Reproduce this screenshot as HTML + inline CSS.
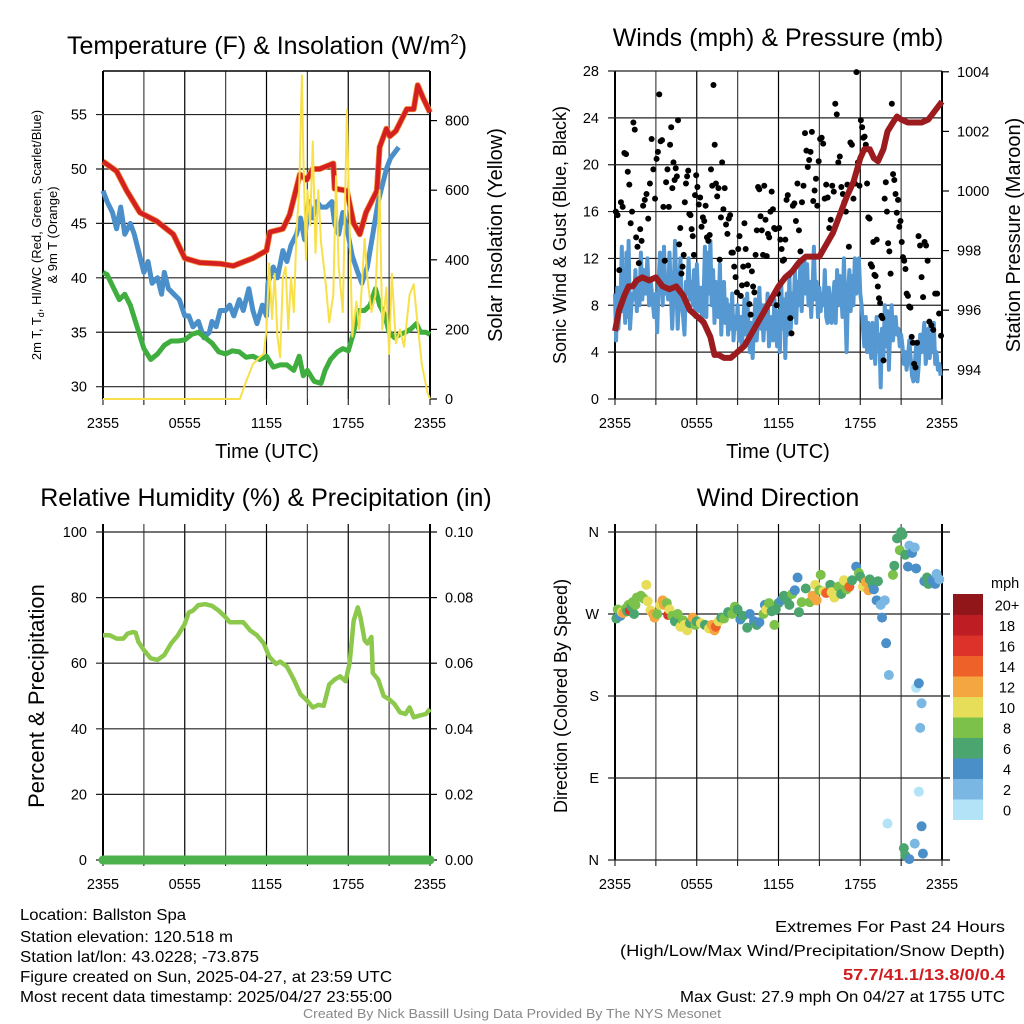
<!DOCTYPE html>
<html><head><meta charset="utf-8">
<style>
html,body{margin:0;padding:0;background:#fff;}
svg{display:block;font-family:"Liberation Sans",sans-serif;}
</style></head>
<body>
<svg id="c" width="1024" height="1024" viewBox="0 0 1024 1024">
<rect width="1024" height="1024" fill="#fff"/>
<text x="267" y="54" font-size="25" text-anchor="middle">Temperature (F) &amp; Insolation (W/m<tspan font-size="15" dy="-10">2</tspan><tspan dy="10">)</tspan></text>
<text x="778" y="46" font-size="25" text-anchor="middle">Winds (mph) &amp; Pressure (mb)</text>
<text x="266" y="506" font-size="25" text-anchor="middle">Relative Humidity (%) &amp; Precipitation (in)</text>
<text x="778" y="506" font-size="25" text-anchor="middle">Wind Direction</text>

<text transform="translate(41,235) rotate(-90)" font-size="13" text-anchor="middle">2m T, T<tspan font-size="9" dy="3">d</tspan><tspan dy="-3">, HI/WC (Red, Green, Scarlet/Blue)</tspan></text>
<text transform="translate(57,235) rotate(-90)" font-size="13" text-anchor="middle">&amp; 9m T (Orange)</text>
<text transform="translate(502,235) rotate(-90)" font-size="20" text-anchor="middle">Solar Insolation (Yellow)</text>
<text transform="translate(566,235) rotate(-90)" font-size="18" text-anchor="middle">Sonic Wind &amp; Gust (Blue, Black)</text>
<text transform="translate(1020,235) rotate(-90)" font-size="20" text-anchor="middle">Station Pressure (Maroon)</text>
<text transform="translate(44,696) rotate(-90)" font-size="22" text-anchor="middle">Percent &amp; Precipitation</text>
<text transform="translate(567,696) rotate(-90)" font-size="18" text-anchor="middle">Direction (Colored By Speed)</text>
<text x="267" y="458" font-size="20" text-anchor="middle">Time (UTC)</text>
<text x="778" y="458" font-size="20" text-anchor="middle">Time (UTC)</text>

<g font-size="16">
<text x="20" y="920" textLength="166" lengthAdjust="spacingAndGlyphs">Location: Ballston Spa</text>
<text x="20" y="942" textLength="213" lengthAdjust="spacingAndGlyphs">Station elevation: 120.518 m</text>
<text x="20" y="962" textLength="239" lengthAdjust="spacingAndGlyphs">Station lat/lon: 43.0228; -73.875</text>
<text x="20" y="982" textLength="372" lengthAdjust="spacingAndGlyphs">Figure created on Sun, 2025-04-27, at 23:59 UTC</text>
<text x="20" y="1002" textLength="372" lengthAdjust="spacingAndGlyphs">Most recent data timestamp: 2025/04/27 23:55:00</text>
</g>
<g font-size="16">
<text x="775" y="932" textLength="230" lengthAdjust="spacingAndGlyphs">Extremes For Past 24 Hours</text>
<text x="620" y="956" textLength="385" lengthAdjust="spacingAndGlyphs">(High/Low/Max Wind/Precipitation/Snow Depth)</text>
<text x="843" y="980" fill="#d01c1f" font-weight="bold" textLength="162" lengthAdjust="spacingAndGlyphs">57.7/41.1/13.8/0/0.4</text>
<text x="680" y="1002" textLength="325" lengthAdjust="spacingAndGlyphs">Max Gust: 27.9 mph On 04/27 at 1755 UTC</text>
</g>
<text x="303" y="1018" font-size="12.5" fill="#888" textLength="418" lengthAdjust="spacingAndGlyphs">Created By Nick Bassill Using Data Provided By The NYS Mesonet</text>
</svg>
<script>
// ---------- DATA ----------
const xTickLabels = ["2355","0555","1155","1755","2355"];
const tempTicks = [30,35,40,45,50,55];
const solarTicks = [0,200,400,600,800];
const windTicks = [0,4,8,12,16,20,24,28];
const presTicks = [994,996,998,1000,1002,1004];
const rhTicks = [0,20,40,60,80,100];
const precipTicks = ["0.00","0.02","0.04","0.06","0.08","0.10"];
const dirLabels = ["N","E","S","W","N"];
const speedLabels = ["0","2","4","6","8","10","12","14","16","18","20+"];
const speedColors = ["#b3e3f7","#7ab8e3","#4a8fc7","#4aa56e","#7cc149","#e6de58","#f4a640","#ee6229","#dd3229","#bf1d24","#901619"];

const tempT = [0,1.0,1.74,2.71,3.94,5.16,6.0,7.1,8.6,9.56,11.0,12.0,12.25,13.2,13.7,14.45,14.94,15.4,15.9,16.9,17.0,17.9,18.4,18.85,19.3,20.1,20.3,20.8,21.05,21.5,22.3,22.8,23.1,23.5,24];
const tempV = [50.7,49.8,48,46,45.2,44,41.8,41.4,41.3,41.1,41.8,42.5,44.2,44.5,45.8,49.5,49,50,50,50.5,48.2,48,45,44,46,48,52,53.7,53,53.5,55.5,55.5,57.7,56.5,55.2];
const chillT = [0,0.3,0.7,1,1.3,1.6,2,2.3,2.7,3,3.3,3.6,4,4.3,4.5,4.8,5.2,5.6,6,6.3,6.6,7,7.4,7.8,8,8.3,8.6,9,9.3,9.6,10,10.3,10.7,11,11.3,11.7,12,12.1,12.5,12.8,13.2,13.5,13.8,14.2,14.5,14.8,15.1,15.4,15.7,16,16.4,16.8,17,17.3,17.6,17.9,18.3,18.7,19,19.4,19.8,20.2,20.5,20.8,21.1,21.4,21.7];
const chillV = [48,47,46,44.5,46.5,44,45,44,42,40.5,41.5,39.5,40,38.5,40.5,39,38.5,38,36.5,36.5,35.5,36,34.5,35,36,35.5,37,37,37.5,36.5,38,37,39,37,35.8,37.5,36.5,39.5,41,40,42.5,41.5,43,44,45.5,43.5,47,45.5,47,46.5,46.5,47,45,44,46,44.5,42,40.5,39.5,41,44,47,48.5,50,51,51.5,52];
const dewT = [0,0.3,0.8,1.2,1.6,2,2.5,3,3.5,4,4.5,5,5.5,6,6.5,7,7.5,8,8.5,9,9.5,10,10.5,11,11.5,12,12.5,13,13.5,14,14.4,14.7,15,15.5,16,16.3,16.7,17.2,17.6,18,18.4,18.7,19.2,19.6,20,20.3,20.7,21,21.4,21.8,22.2,22.6,23,23.3,23.7,24];
const dewV = [40.5,40.3,39,38,38.5,37.5,35.5,33.5,32.5,33,33.8,34.2,34.2,34.3,34.8,35,34.5,34,33.2,33,33.3,33.2,32.7,32.8,32.5,32.8,31.8,32,32,31.5,32.8,31,31.5,30.5,30.3,31.5,32.5,33.2,33.5,33.3,35,37,37,37.5,39,37.5,36.5,35,34.5,34.8,35,35.3,35.8,35,35,34.8];
const solarT = [0,10.05,10.5,11,11.5,11.8,12,12.2,12.4,12.6,12.8,13,13.2,13.4,13.6,13.8,14,14.2,14.4,14.6,14.7,14.9,15,15.2,15.4,15.6,15.8,16,16.3,16.6,16.9,17.1,17.3,17.6,17.9,18.1,18.3,18.6,18.8,19.2,19.4,19.7,20,20.3,20.5,20.8,21,21.2,21.5,21.8,22.1,22.5,22.8,23,23.4,23.8,24];
const solarV = [0,0,50,100,120,130,200,390,230,360,180,120,350,380,200,350,250,480,600,930,700,400,600,500,740,420,600,450,350,220,300,640,380,250,830,500,180,280,200,460,350,250,300,600,200,320,130,360,160,200,150,300,330,250,100,20,0];

const presT = [0,0.3,0.7,1,1.3,1.6,2,2.5,3,3.5,4,4.5,5,5.5,6,6.5,7,7.3,7.6,8,8.5,9,9.5,10,10.5,11,11.5,12,12.5,13,13.5,14,14.5,15,15.5,16,16.5,17,17.5,18,18.3,18.7,19,19.3,19.7,20,20.4,20.7,21,21.5,22,22.5,23,23.5,24];
const presV = [995.3,996,996.5,996.8,996.8,997,997.1,997,997.1,996.8,996.7,996.8,996.5,996,995.8,995.6,995.1,994.5,994.5,994.4,994.4,994.6,994.8,995.2,995.6,996,996.4,996.8,997.1,997.3,997.6,997.8,997.8,997.8,998.2,998.6,999.2,999.8,1000.3,1001.1,1001.4,1001.4,1001.1,1001.0,1001.4,1002,1002.3,1002.5,1002.4,1002.3,1002.3,1002.3,1002.4,1002.7,1003];
const windByHour = [
[9,5,9.5,6,8,9,13,7.5,9,6.5,12.5,7],[13.5,6,8,9,8.5,11,7.5,10,8,12.5],[8.5,11,9,12,8,10,8.5,7],[9,5.7,10,12.5,11,8,13,9,10.5,8.5],
[12.5,9,6,9,13.5,10,6,9,12,8],[7,5.5,10,9,12,8.5,10,8,11,7],[11.5,9,7.5,9.5,6.5,8.5,13,7,12.5,9],[13.5,8,11,6.5,10,9,7,11.5,5.5,9.5],
[10,6.5,8.5,5.5,8,6,9,5,7,6],[8,5,7,4.5,6,8.5,5.5,9,6,4],[6.5,3.5,6,8.5,5,7,9.5,6,8,5],[8,6,9,4.5,6.5,7,5,8.5,6,4.5],
[7.5,4,10,6,8.5,3.5,9,5.5,10.5,6],[9,7,11,6.5,10,8,11.5,7.5,10,12],[9,11.5,8,10,7,9.5,13,8.5,10,7],[9.5,7.5,9,8,11,7,6.5,9.5,8,6.5],
[8.5,10,6.5,11,8,10.5,9,7,12,8],[4,9,11,7.5,10.5,8,12,9,11,12],[9,8,6,4.5,7,4,6.5,5,3.5,6.5],[5.5,3,7,4.5,5.5,1,6,3.5,8,4.5],
[7.5,2.5,6,8,5,6.5,7,5.5,6,4.5],[5.5,4.5,3,4,2.5,3.5,5,3.5,2,1.5],[3,4.5,1.5,3,5.5,4,5,6.5,3,4],[6,3.5,5.5,4,6.5,3,4,2.5,3,2]];
const gustByHour = [
[16,15.7,11,16.8,16.4,21,20.9,19.4],[18.3,15,16,23.6,23,13.8,13,11.6,14.5,13.5],[16.5,17,17.5,15.4,18.4,22.2,19.6,17.1],[20.5,21.1,26,22,22.1,16.4,11.8,18.5,19.6,16.4],
[21.7,23.2,18,20.2,18.7,19.7,19,23.8,13.2,14.6,10.7,11.3],[12.3,16.8,18.4,19,19.5,15.8,15.7,14.5,13.9,12.3,17.4,19.1],[18.1,16.6,17.2,14.7,15.5,15.2,16.5,13.8,13.5,14],[19.6,18.2,26.8,21.7,18.4,17.3,18,11.9,15.5,20.2,16.2],
[18,14.9,14.1,15.4,15.7,12.5,12.5,11.3,10.4,9.1],[12.8,13.9,8.8,9.7,11.3,15,12.8,9.8,11.4,8.1,7.2],[10.9,9.6,9.1,12.3,14.4,18.1,17.9,15.6,14.4,12.3,18.2],[15.3,12.2,14.1,13.8,16,17.7,16.2,14.6,14.5,8,9],
[14.6,13.6,12.8,11.8,11.9,13.6,17,17.4,10.6,6.9,5.6],[16.5,16.7,15.2,18.4,14.4,12.6,16.8,18.2,22.7],[21.2,19.8,20.4,21.1,22.8,16.9,17.8,18.8,16.5,20.3],[22.2,22.3,21.8,17.1,18.3,17.2,14.6,15.3,18.2],
[17.7,25.2,24.3,20.2,20.7,18.1,17.5,16.8,16],[18.3,13,21.9,21.7,17.1,18.4,27.9,20.2,18.2],[23.8,23.2,22.3,22.4,21.7,18.4,15.5,15.4,11.5,11.3,13.4],[10.6,10.5,13.6,9.6,8.6,8.2,7.1,6.9,3.3,17.1,18.5,16],
[13.3,12.6,10.7,25.2,19.2,18.7,17.5,15.9,17,14.7,15.2],[13.4,12.1,11.8,11.1,9,8.8,7.9,7.8,5.3,4.8,3],[2.7,4.8,13.9,13.1,10.4,8.7,13.4,13.1,11.8],[6.6,6.3,5.9,9,9,7.3,5.4]];

const rhT = [0,0.5,1,1.5,1.8,2.2,2.4,2.6,3,3.5,4,4.5,5,5.5,6,6.3,6.6,7,7.5,8,8.5,9,9.3,9.8,10.3,10.8,11.3,11.8,12.2,12.7,13,13.5,14,14.5,15,15.4,15.8,16.2,16.6,17,17.4,17.8,18.1,18.4,18.7,18.9,19.2,19.4,19.7,19.8,20.2,20.6,21,21.4,21.8,22.2,22.5,22.8,23.2,23.7,24];
const rhV = [68.5,68.5,67.5,67.5,69,69.5,69.3,66.5,64,61.5,61,62.5,66,68.5,72,75.5,76,77.7,78,77.5,76,74,72.5,72.5,72.5,70,68.5,66,62,59.8,60.5,59,55,50.5,48.5,46.5,47.3,47,53.5,55,56,54.5,60,73,77,74,67,66,68,57,55,50,49,47.5,45,44.5,46.5,43.5,44,44.5,46];
const precipT = [0,24];
const precipV = [0,0];

const dirT = [0.1,0.2,0.4,0.5,0.6,0.8,0.9,1.0,1.1,1.2,1.3,1.4,1.5,1.6,1.9,2.1,2.3,2.4,2.6,2.8,2.9,3.1,3.3,3.5,3.6,3.8,3.9,4.0,4.2,4.4,4.6,4.8,5.0,5.1,5.3,5.5,5.7,5.9,6.0,6.3,6.6,6.9,7.1,7.3,7.4,7.6,7.8,8.0,8.3,8.6,8.8,9.0,9.2,9.4,9.7,9.9,10.2,10.4,10.6,10.9,11.0,11.1,11.3,11.5,11.7,11.8,12.0,12.2,12.4,12.6,12.8,13.0,13.2,13.4,13.5,13.7,14.0,14.3,14.5,14.7,14.8,15.0,15.1,15.3,15.5,15.8,15.9,16.1,16.4,16.6,16.8,17.0,17.2,17.4,17.7,17.9,18.0,18.2,18.4,18.6,18.7,18.9,19.0,19.2,19.3,19.5,19.6,19.8,19.9,20.1,20.0,20.4,20.5,20.7,20.9,21.0,21.1,21.3,21.5,21.6,21.8,22.0,22.1,21.2,21.3,21.6,22.0,22.1,22.3,22.5,22.4,22.3,22.5,22.6,22.7,22.9,23.0,23.3,23.5,23.6,23.8];
const dirV = [265,275,268,272,271,276,273,280,274,278,283,270,280,288,290,287,302,284,274,270,266,270,280,285,280,282,269,275,268,262,270,256,263,258,252,260,266,258,262,260,258,254,258,252,256,262,266,265,272,270,278,275,264,268,255,270,262,258,261,270,280,275,282,273,258,275,282,285,290,286,280,292,296,310,272,283,298,283,290,302,285,296,313,295,293,302,294,288,300,292,307,297,300,307,322,315,311,300,305,296,308,302,297,285,306,280,266,285,238,203,40,313,323,353,340,360,357,335,322,345,337,343,320,13,5,1,18,189,194,172,145,75,37,7,306,310,303,307,303,314,308];
const dirSpd = [6,8,5,10,12,8,6,9,16,7,8,7,8,8,8,8,10,10,10,12,12,8,10,12,12,8,16,10,8,6,8,10,8,10,10,7,12,8,6,10,7,10,12,12,14,10,6,8,6,8,8,6,4,6,6,4,4,6,4,8,4,10,8,6,8,6,6,4,6,6,6,8,4,4,6,8,6,8,12,10,12,8,8,10,14,6,10,10,8,6,10,8,14,6,4,8,6,10,12,12,6,6,4,4,6,2,4,2,4,2,0,8,6,6,8,6,6,6,4,2,4,2,4,6,6,4,2,0,4,2,2,0,4,4,4,6,6,4,4,2,2];

// ---------- DRAWING ----------
const NS="http://www.w3.org/2000/svg";
const svg=document.getElementById('c');
function el(tag,attrs,parent){const e=document.createElementNS(NS,tag);for(const k in attrs)e.setAttribute(k,attrs[k]);(parent||svg).appendChild(e);return e;}
function xScale(x0,x1){return h=>x0+(x1-x0)*h/24;}
function pathD(ts,vs,xs,ys){return ts.map((t,i)=>(i?'L':'M')+xs(t).toFixed(1)+','+ys(vs[i]).toFixed(1)).join('');}

function frame(L,R,T,B,leftTicks,leftY,leftLabels,rightTicks,rightY,rightLabels,name,yTop0){
  const g=el('g',{});
  
  
  const xs=xScale(L,R);
  for(let i=0;i<=8;i++){const x=xs(i*3);
    const gl=el('line',{x1:x,y1:yTop0||T,x2:x,y2:B,stroke:i%2?'#444':'#000','stroke-width':(i===0||i===8)?2:1.2},g);
    
    
    el('line',{x1:x,y1:B,x2:x,y2:B+6,stroke:'#000','stroke-width':1},g);
  }
  xTickLabels.forEach((lab,i)=>{const t=el('text',{x:xs(i*6),y:B+29,'font-size':14.5,'text-anchor':'middle'},g);t.textContent=lab;
    
    });
  leftTicks.forEach((v,i)=>{const y=leftY(v);
    el('line',{x1:L-7,y1:y,x2:R,y2:y,stroke:'#222','stroke-width':1.2},g);
    const t=el('text',{x:L-16,y:y+5,'font-size':14.5,'text-anchor':'end'},g);t.textContent=leftLabels[i];
    
    });
  if(rightTicks)rightTicks.forEach((v,i)=>{const y=rightY(v);
    el('line',{x1:R,y1:y,x2:R+7,y2:y,stroke:'#000','stroke-width':1.2},g);
    const t=el('text',{x:R+15,y:y+5,'font-size':14.5},g);t.textContent=rightLabels[i];
    
    });
  return xs;
}

// Panel 1: temperature
{const L=103,R=430,T=71,B=399;
 const ty=v=>B-(B-T)*(v-28.87)/(59.0-28.87);
 const sy=v=>B-v*0.348;
 const xs=frame(L,R,T,B,tempTicks,ty,tempTicks.map(String),solarTicks,sy,solarTicks.map(String),'temp');
 el('line',{x1:L,y1:T,x2:R,y2:T,stroke:'#000','stroke-width':1.5});
 const p1=el('path',{d:pathD(chillT,chillV,xs,ty),fill:'none',stroke:'#4a8fc9','stroke-width':5,'stroke-linejoin':'round'});
 
 
 const p2=el('path',{d:pathD(dewT,dewV,xs,ty),fill:'none',stroke:'#3fae3f','stroke-width':5,'stroke-linejoin':'round'});
 
 
 const p3=el('path',{d:pathD(tempT,tempV,xs,ty),fill:'none',stroke:'#f08a30','stroke-width':6,'stroke-linejoin':'round'});
 
 
 const p4=el('path',{d:pathD(tempT,tempV,xs,ty),fill:'none',stroke:'#d42020','stroke-width':4.5,'stroke-linejoin':'round'});
 
 
 const p5=el('path',{d:pathD(solarT,solarV,xs,sy),fill:'none',stroke:'#f7e04a','stroke-width':2,'stroke-linejoin':'round'});
 
 
}
// Panel 2: winds
{const L=615,R=942,T=71,B=399;
 const wy=v=>B-(B-T)*v/28;
 const py=v=>B-(v-993.02)*29.8;
 const xs=frame(L,R,T,B,windTicks,wy,windTicks.map(String),presTicks,py,presTicks.map(String),'wind');
 const wt=[],wv=[];
 windByHour.forEach((arr,h)=>arr.forEach((v,i)=>{wt.push(h+i/arr.length);wv.push(v);}));
 const p=el('path',{d:pathD(wt,wv,xs,wy),fill:'none',stroke:'#5598d2','stroke-width':4,'stroke-linejoin':'round'});
 
 
 gustByHour.forEach((arr,h)=>arr.forEach((v,i)=>{
   const c=el('circle',{cx:xs(h+(i+0.5)/arr.length),cy:wy(v),r:3,fill:'#000'});
   
   }));
 const pp=el('path',{d:pathD(presT,presV,xs,py),fill:'none',stroke:'#9b1b1e','stroke-width':6,'stroke-linejoin':'round'});
 
 
}
// Panel 3: RH
{const L=103,R=430,T=532,B=860;
 const ry=v=>B-(B-T)*v/100;
 const xs=frame(L,R,T,B,rhTicks,ry,rhTicks.map(String),rhTicks,ry,precipTicks,'rh',524);
 const p=el('path',{d:pathD(rhT,rhV,xs,ry),fill:'none',stroke:'#8cc84b','stroke-width':4.5,'stroke-linejoin':'round'});
 
 
 const q=el('path',{d:pathD(precipT,precipV,xs,ry),fill:'none',stroke:'#4cb34c','stroke-width':9,'stroke-linecap':'round'});
 
 
}
// Panel 4: wind direction
{const L=615,R=942,T=532,B=860;
 const dy=v=>B-(B-T)*v/360;
 const xs=frame(L,R,T,B,[0,90,180,270,360],dy,dirLabels,null,null,null,'wdir',524);
 [0,90,180,270,360].forEach(v=>el('line',{x1:R,y1:dy(v),x2:R+8,y2:dy(v),stroke:'#000','stroke-width':1.2}));
 dirT.forEach((t,i)=>{const k=Math.min(10,Math.floor(dirSpd[i]/2));
   const c=el('circle',{cx:xs(t),cy:dy(dirV[i]),r:5,fill:speedColors[k]});
   
   });
 const cb=el('g',{});
 
 
 const top=594,bh=20.5;
 speedColors.forEach((c,i)=>{const y=top+(10-i)*bh;
   el('rect',{x:953,y:y,width:30,height:bh+0.5,fill:c},cb);
   const t=el('text',{x:1007,y:y+bh/2+6,'font-size':14.5,'text-anchor':'middle'},cb);t.textContent=speedLabels[i];});
 const m=el('text',{x:991,y:588,'font-size':14.5},cb);m.textContent='mph';
}
</script>
</body></html>
